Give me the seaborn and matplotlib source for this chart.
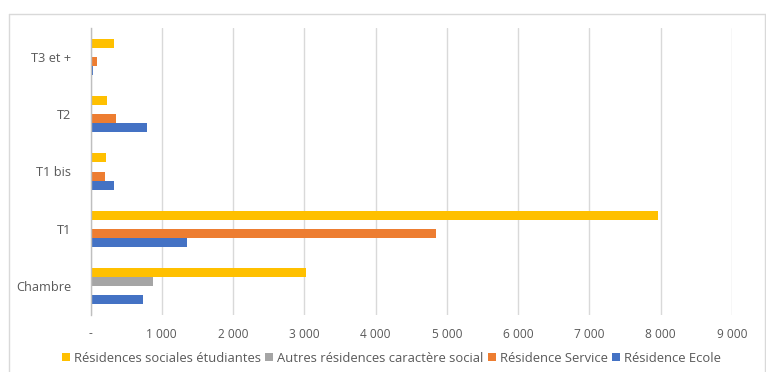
import matplotlib
matplotlib.use("Agg")
import matplotlib.pyplot as plt
from matplotlib.lines import Line2D
from matplotlib.patches import Patch
import pandas as pd
import seaborn as sns

# Logements par type et par catégorie de résidence
categories = ["T3 et +", "T2", "T1 bis", "T1", "Chambre"]
series = [
    "Résidences sociales étudiantes",
    "Autres résidences caractère social",
    "Résidence Service",
    "Résidence Ecole",
]
etudiantes = [330, 235, 220, 7960, 3030]
autres = [0, 0, 0, 0, 880]
service = [90, 360, 200, 4850, 0]
ecole = [30, 795, 330, 1350, 740]
x_ticks = [0, 1000, 2000, 3000, 4000, 5000, 6000, 7000, 8000, 9000]
x_labels = ["-", "1 000", "2 000", "3 000", "4 000", "5 000", "6 000", "7 000", "8 000", "9 000"]

colors = ["#FFC000", "#A5A5A5", "#ED7D31", "#4472C4"]
text_color = "#595959"
grid_color = "#D9D9D9"

df = pd.DataFrame({
    "type": categories * 4,
    "serie": [s for s in series for _ in categories],
    "valeur": etudiantes + autres + service + ecole,
})

sns.set_theme(style="white")
plt.rcParams["font.family"] = ["Open Sans", "DejaVu Sans"]

fig = plt.figure(figsize=(7.66, 3.72), dpi=100)
ax = fig.add_axes([90.5 / 766, 57 / 372, (732 - 90.5) / 766, 287 / 372])

sns.barplot(
    data=df, x="valeur", y="type", hue="serie",
    order=categories, hue_order=series, palette=colors,
    orient="h", width=0.63, saturation=1, errorbar=None,
    linewidth=0, legend=False, ax=ax,
)

ax.set_xlim(0, 9000)
ax.set_ylim(4.5, -0.5)
ax.set_xticks(x_ticks)
ax.set_xticklabels(x_labels)
ax.set_xlabel("")
ax.set_ylabel("")
ax.grid(axis="x", color=grid_color, linewidth=1)
ax.set_axisbelow(True)
for side in ["top", "right", "bottom"]:
    ax.spines[side].set_visible(False)
ax.spines["left"].set_color("#BFBFBF")
ax.spines["left"].set_linewidth(1)
ax.tick_params(axis="both", length=0, colors=text_color, labelsize=8.6)
ax.tick_params(axis="x", pad=9)
ax.tick_params(axis="y", pad=14, labelsize=9.2)

handles = [Patch(facecolor=c, edgecolor="none") for c in colors]
fig.legend(
    handles, series, loc="center", bbox_to_anchor=(0.511, (372 - 358) / 372),
    ncol=4, frameon=False, fontsize=9.4, labelcolor=text_color,
    handlelength=0.6, handleheight=0.6, handletextpad=0.3, columnspacing=0.35,
)

# cadre du graphique
frame_kw = dict(color=grid_color, linewidth=1, transform=fig.transFigure)
fig.add_artist(Line2D([9 / 766, 9 / 766], [0, 1 - 14 / 372], **frame_kw))
fig.add_artist(Line2D([9 / 766, 765 / 766], [1 - 14 / 372, 1 - 14 / 372], **frame_kw))
fig.add_artist(Line2D([765 / 766, 765 / 766], [0, 1 - 14 / 372], **frame_kw))

fig.savefig("out.png", dpi=100, facecolor="white")
